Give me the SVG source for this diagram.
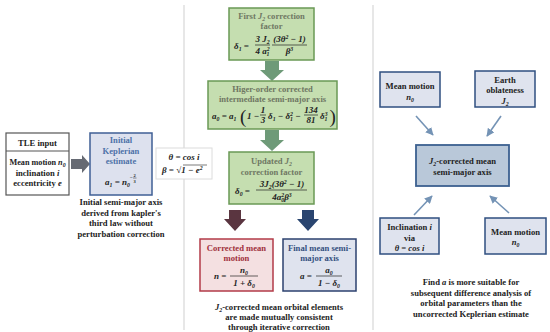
<svg xmlns="http://www.w3.org/2000/svg" width="550" height="332" viewBox="0 0 550 332">
<defs>
<marker id="ah" viewBox="0 0 10 10" refX="9" refY="5" markerWidth="5" markerHeight="5" orient="auto">
<path d="M0,0 L10,5 L0,10 z" fill="#7493b5"/>
</marker>
<style>
text{font-family:"Liberation Serif","DejaVu Serif",serif;font-weight:bold;font-size:8.6px;fill:#222}
.c{text-anchor:middle}
.i{font-style:italic}
.s{font-size:5.8px}
.f{font-size:9px;font-style:italic}
.gt{fill:#6f7763}
.green{fill:#c5deb0;stroke:#6a9955;stroke-width:1.5}
.rb{fill:#dfe3ee;stroke:#2f4f80;stroke-width:1.5}
.bar{stroke:#222;stroke-width:0.7}
.div{stroke:#cfcfcf;stroke-width:1}
.thin{stroke:#7493b5;stroke-width:1.6;fill:none;marker-end:url(#ah)}
</style>
</defs>
<rect width="550" height="332" fill="#fff"/>
<line class="div" x1="184" y1="5" x2="184" y2="330"/>
<line class="div" x1="373" y1="5" x2="373" y2="330"/>

<g id="connectors">
<polygon points="71,159 82,159 82,155 90,164 82,173 82,169 71,169" fill="#666a73"/>
<polygon points="265,61 279,61 279,70 284,70 272,81 260,70 265,70" fill="#6e9a78"/>
<polygon points="265,130 279,130 279,140 284,140 272,151 260,140 265,140" fill="#6e9a78"/>
<polygon points="229,210 241,210 241,219 246,219 235,231 224,219 229,219" fill="#5a3540"/>
<polygon points="302,210 314,210 314,219 319,219 308,231 297,219 302,219" fill="#2a4570"/>
<line class="thin" x1="416" y1="116" x2="433" y2="135"/>
<line class="thin" x1="501" y1="116" x2="487" y2="136"/>
<line class="thin" x1="414" y1="215" x2="432" y2="196"/>
<line class="thin" x1="509" y1="213" x2="490" y2="196"/>
</g>

<g id="tle">
<rect x="6" y="133" width="63" height="62" fill="#fff" stroke="#555" stroke-width="1.2"/>
<line x1="6" y1="151" x2="69" y2="151" stroke="#555" stroke-width="1.2"/>
<text class="c" x="37.5" y="146">TLE input</text>
<text class="c" x="37.5" y="165" style="font-size:8.2px">Mean motion <tspan class="i">n</tspan><tspan class="s i" dy="2">0</tspan></text>
<text class="c" x="37.5" y="175.5">inclination <tspan class="i">i</tspan></text>
<text class="c" x="37.5" y="186">eccentricity <tspan class="i">e</tspan></text>
</g>

<g id="kepler">
<rect x="90" y="133" width="62" height="62" fill="#dde1ee" stroke="#3f5f95" stroke-width="1.5"/>
<text class="c" x="121" y="143" style="fill:#4e72a8">Initial</text>
<text class="c" x="121" y="153.5" style="fill:#4e72a8">Keplerian</text>
<text class="c" x="121" y="164" style="fill:#4e72a8">estimate</text>
<text class="f" x="105" y="185">a<tspan class="s" dy="2">1</tspan><tspan dy="-2"> = n</tspan><tspan class="s" dy="2">0</tspan></text>
<text class="i" x="129.5" y="179" style="font-size:5px">−</text>
<text x="133.5" y="177" style="font-size:4.5px">2</text>
<line x1="133" y1="178" x2="136.5" y2="178" stroke="#222" stroke-width="0.5"/>
<text x="133.5" y="182.5" style="font-size:4.5px">3</text>
<text class="c" x="121" y="205">Initial semi-major axis</text>
<text class="c" x="121" y="215.5">derived from kapler's</text>
<text class="c" x="121" y="226">third law without</text>
<text class="c" x="121" y="236.5">perturbation correction</text>
</g>

<g id="theta">
<rect x="156" y="148" width="56" height="31" fill="#fff" stroke="#dcdcdc" stroke-width="1"/>
<text class="c f" x="184" y="160">θ = cos i</text>
<text class="f" x="162" y="173">β = √1 − e<tspan class="s" dy="-3">2</tspan></text>
<line x1="183" y1="165" x2="207" y2="165" stroke="#222" stroke-width="0.6"/>
</g>

<g id="first-j2">
<rect class="green" x="229" y="8" width="85" height="52"/>
<text class="c gt" x="271.5" y="19">First <tspan class="i">J</tspan><tspan class="s i" dy="2">2</tspan><tspan dy="-2"> correction</tspan></text>
<text class="c gt" x="271.5" y="29">factor</text>
<text class="f" x="234" y="48.5">δ<tspan class="s" dy="2">1</tspan><tspan dy="-2"> =</tspan></text>
<text class="c f" x="262.5" y="42">3 J<tspan class="s" dy="2">2</tspan></text>
<line class="bar" x1="255" y1="45" x2="270" y2="45"/>
<text class="c f" x="262.5" y="53.5">4 a<tspan class="s" dy="-3">2</tspan><tspan class="s" dx="-3" dy="5">1</tspan></text>
<text class="c f" x="289.5" y="42">(3θ<tspan class="s" dy="-3">2</tspan><tspan dy="3"> − 1)</tspan></text>
<line class="bar" x1="272" y1="45" x2="307" y2="45"/>
<text class="c f" x="289.5" y="54">β<tspan class="s" dy="-3">3</tspan></text>
</g>

<g id="higher-order">
<rect class="green" x="208" y="81" width="129" height="48"/>
<text class="c gt" x="272.5" y="91.5">Higer-order corrected</text>
<text class="c gt" x="272.5" y="101.5">intermediate semi-major axis</text>
<text class="f" x="212" y="119">a<tspan class="s" dy="2">0</tspan><tspan dy="-2"> = a</tspan><tspan class="s" dy="2">1</tspan></text>
<text x="240" y="122.5" style="font-size:19px;font-weight:normal">(</text>
<text class="f" x="247" y="119">1 −</text>
<text class="c f" x="263" y="112.5">1</text>
<line class="bar" x1="260" y1="115" x2="266" y2="115"/>
<text class="c f" x="263" y="123">3</text>
<text class="f" x="268" y="119">δ<tspan class="s" dy="2">1</tspan><tspan dy="-2"> − δ</tspan><tspan class="s" dy="-3">2</tspan><tspan class="s" dx="-3" dy="5">1</tspan><tspan dy="-2"> −</tspan></text>
<text class="c f" x="311" y="112.5">134</text>
<line class="bar" x1="304" y1="115" x2="318" y2="115"/>
<text class="c f" x="311" y="123">81</text>
<text class="f" x="320" y="119">δ<tspan class="s" dy="-3">3</tspan><tspan class="s" dx="-3" dy="5">1</tspan></text>
<text x="329.5" y="122.5" style="font-size:19px;font-weight:normal">)</text>
</g>

<g id="updated-j2">
<rect class="green" x="229" y="152" width="85" height="52"/>
<text class="c gt" x="271.5" y="164">Updated <tspan class="i">J</tspan><tspan class="s i" dy="2">2</tspan></text>
<text class="c gt" x="271.5" y="174.5">correction factor</text>
<text class="f" x="235" y="194">δ<tspan class="s" dy="2">0</tspan><tspan dy="-2"> =</tspan></text>
<text class="c f" x="282" y="187">3J<tspan class="s" dy="2">2</tspan><tspan dy="-2">(3θ</tspan><tspan class="s" dy="-3">2</tspan><tspan dy="3"> − 1)</tspan></text>
<line class="bar" x1="256" y1="190" x2="307" y2="190"/>
<text class="c f" x="282" y="199.5">4a<tspan class="s" dy="-3">2</tspan><tspan class="s" dx="-3" dy="5">0</tspan><tspan dy="-2">β</tspan><tspan class="s" dy="-3">3</tspan></text>
</g>

<g id="corrected-motion">
<rect x="200" y="239" width="73" height="52" fill="#f4e0e1" stroke="#b23b48" stroke-width="1.5"/>
<text class="c" x="236.5" y="250.5" style="fill:#a0303c">Corrected mean</text>
<text class="c" x="236.5" y="261" style="fill:#a0303c">motion</text>
<text class="f" x="214" y="279">n =</text>
<text class="c f" x="244" y="273">n<tspan class="s" dy="2">0</tspan></text>
<line class="bar" x1="230" y1="276" x2="258" y2="276"/>
<text class="c f" x="244" y="285.5">1 + δ<tspan class="s" dy="2">0</tspan></text>
</g>

<g id="final-axis">
<rect x="283" y="239" width="73" height="52" fill="#dfe3ee" stroke="#2c416f" stroke-width="1.5"/>
<text class="c" x="319.5" y="250.5" style="fill:#34507f">Final mean semi-</text>
<text class="c" x="319.5" y="261" style="fill:#34507f">major axis</text>
<text class="f" x="300" y="279">a =</text>
<text class="c f" x="329" y="273">a<tspan class="s" dy="2">0</tspan></text>
<line class="bar" x1="316" y1="276" x2="342" y2="276"/>
<text class="c f" x="329" y="285.5">1 − δ<tspan class="s" dy="2">0</tspan></text>
</g>

<g id="middle-caption">
<text class="c" x="279" y="309.5"><tspan class="i">J</tspan><tspan class="s i" dy="2">2</tspan><tspan dy="-2">-corrected mean orbital elements</tspan></text>
<text class="c" x="279" y="319.5">are made mutually consistent</text>
<text class="c" x="279" y="329.5">through iterative correction</text>
</g>

<g id="mean-motion-1">
<rect class="rb" x="380" y="72" width="60" height="35"/>
<text class="c" x="410" y="89">Mean motion</text>
<text class="c i" x="410" y="99.5">n<tspan class="s" dy="2">0</tspan></text>
</g>

<g id="earth-oblateness">
<rect class="rb" x="475" y="71" width="60" height="36"/>
<text class="c" x="505" y="83">Earth</text>
<text class="c" x="505" y="93">oblateness</text>
<text class="c i" x="505" y="103.5">J<tspan class="s" dy="2">2</tspan></text>
</g>

<g id="j2-axis">
<rect x="416" y="145" width="93" height="41" fill="#b9c8d9" stroke="#3c6090" stroke-width="1.8"/>
<text class="c" x="462.5" y="164"><tspan class="i">J</tspan><tspan class="s i" dy="2">2</tspan><tspan dy="-2">-corrected mean</tspan></text>
<text class="c" x="462.5" y="174.5">semi-major axis</text>
</g>

<g id="inclination">
<rect class="rb" x="380" y="218" width="59" height="36"/>
<text class="c" x="409.5" y="230">Inclination <tspan class="i">i</tspan></text>
<text class="c" x="409.5" y="240.5">via</text>
<text class="c i" x="409.5" y="251">θ = cos i</text>
</g>

<g id="mean-motion-2">
<rect class="rb" x="485" y="218" width="61" height="36"/>
<text class="c" x="515.5" y="234.5">Mean motion</text>
<text class="c i" x="515.5" y="245">n<tspan class="s" dy="2">0</tspan></text>
</g>

<g id="right-caption">
<text class="c" x="471" y="285">Find <tspan class="i">a</tspan> is more suitable for</text>
<text class="c" x="471" y="295.5">subsequent difference analysis of</text>
<text class="c" x="471" y="306">orbital parameters than the</text>
<text class="c" x="471" y="316.5">uncorrected Keplerian estimate</text>
</g>
</svg>
